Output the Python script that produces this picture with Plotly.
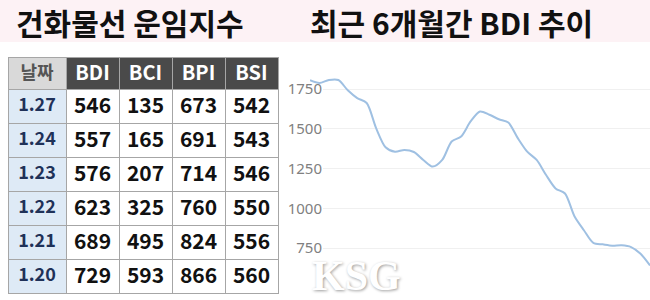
import plotly.graph_objects as go
import pandas as pd

# ---- table data ----
dates = ["1.27", "1.24", "1.23", "1.22", "1.21", "1.20"]
bdi = [546, 557, 576, 623, 689, 729]
bci = [135, 165, 207, 325, 495, 593]
bpi = [673, 691, 714, 760, 824, 866]
bsi = [542, 543, 546, 550, 556, 560]
header_labels = ["날짜", "BDI", "BCI", "BPI", "BSI"]

# ---- 6-month BDI trend (~5-day steps) ----
trend_values = [1805, 1788, 1807, 1807, 1742, 1693, 1662, 1504, 1384, 1356,
                1367, 1354, 1304, 1262, 1304, 1420, 1451, 1546, 1609, 1588,
                1560, 1539, 1441, 1356, 1304, 1209, 1125, 1093, 950, 862,
                782, 773, 765, 767, 756, 714, 640]
trend_dates = pd.date_range("2024-07-29", periods=len(trend_values), freq="5D")
ytick_vals = [750, 1000, 1250, 1500, 1750]

W, H = 650, 300
FONT = "Noto Sans CJK KR"

fig = go.Figure()

fig.add_trace(go.Table(
    domain=dict(x=[8 / W, 278 / W], y=[0, 1 - 57 / H]),
    columnwidth=[58, 53, 53, 53, 53],
    header=dict(
        values=header_labels,
        height=32,
        fill_color=["#d9d9d9", "#4a4a4a", "#4a4a4a", "#4a4a4a", "#4a4a4a"],
        line=dict(color="#a6a6a6", width=1),
        font=dict(family=FONT, size=[18, 20, 20, 20, 20],
                  color=["#555555", "white", "white", "white", "white"], weight="bold"),
        align="center",
    ),
    cells=dict(
        values=[dates, bdi, bci, bpi, bsi],
        height=34,
        fill_color=["#deeaf6", "white", "white", "white", "white"],
        line=dict(color="#a6a6a6", width=1),
        font=dict(family=FONT, size=[18, 21, 21, 21, 21],
                  color=["#1f3158", "#111111", "#111111", "#111111", "#111111"], weight="bold"),
        align="center",
    ),
))

# dummy trace for gridline subplot
fig.add_trace(go.Scatter(x=[0], y=[None], xaxis="x", yaxis="y", showlegend=False,
                         hoverinfo="skip"))

fig.add_trace(go.Scatter(
    x=trend_dates, y=trend_values, xaxis="x2", yaxis="y2", mode="lines",
    line=dict(color="#9fc0e2", width=2, shape="spline", smoothing=0.8),
    showlegend=False,
))

yr = [423, 2027]
fig.update_layout(
    width=W, height=H,
    margin=dict(l=0, r=0, t=0, b=0),
    paper_bgcolor="white",
    plot_bgcolor="rgba(0,0,0,0)",
    showlegend=False,
    xaxis=dict(domain=[323 / W, 1], anchor="y", visible=False, range=[0, 1]),
    yaxis=dict(domain=[0, 0.85], anchor="x", range=yr, tickvals=ytick_vals,
               showgrid=True, gridcolor="#f0f0f0", gridwidth=1, zeroline=False,
               showline=False, ticks="",
               tickfont=dict(family="Noto Sans", size=15, color="#808080")),
    xaxis2=dict(domain=[310 / W, 1], anchor="y2", visible=False,
                range=[trend_dates[0], trend_dates[-1]]),
    yaxis2=dict(domain=[0, 0.85], anchor="x2", range=yr, visible=False),
    shapes=[dict(type="rect", xref="paper", yref="paper", x0=0, x1=1,
                 y0=1 - 42 / H, y1=1, fillcolor="#fdf2f5", line=dict(width=0),
                 layer="below")],
    annotations=[
        dict(text="건화물선 운임지수", x=130 / W, y=1 - 22 / H, xref="paper", yref="paper",
             showarrow=False, xanchor="center", yanchor="middle",
             font=dict(family=FONT, size=30, color="#111111", weight="bold")),
        dict(text="최근 6개월간 BDI 추이", x=451 / W, y=1 - 22 / H, xref="paper", yref="paper",
             showarrow=False, xanchor="center", yanchor="middle",
             font=dict(family=FONT, size=30, color="#111111", weight="bold")),
        dict(text="KSG", x=356 / W, y=1 - 276 / H, xref="paper", yref="paper",
             showarrow=False, xanchor="center", yanchor="middle",
             font=dict(family="Liberation Serif", size=42, color="white", weight="bold",
                       shadow="1px 1px 3px #9a9a9a")),
    ],
)

fig.write_html("out.html")
